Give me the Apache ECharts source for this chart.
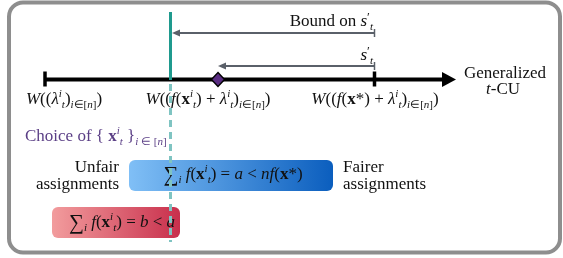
<!DOCTYPE html>
<html>
<head>
<meta charset="UTF-8">
<title>Generalized t-CU</title>
<script src="https://cdn.jsdelivr.net/npm/echarts@6/dist/echarts.min.js"></script>
<style>
    html, body { margin: 0; padding: 0; background: #fff; }
    #chart { width: 563px; height: 258px; }
</style>
</head>
<body>
<div id="chart"></div>
<script>
// values along the generalized t-CU axis (hidden value axis 0..563)
var axisRange = [45, 456];
var boundTicks = [45, 374.5];              // W((λ)) and W((f(x*)+λ))
var chosenValue = [170.5];                 // W((f(x_t)+λ)), teal marker
var currentValue = [218];                  // diamond
var gapArrows = [[374.5, 172], [374.5, 218]];   // "Bound on s't", "s't"
var assignmentBoxes = [[129, 333], [52, 180]];  // fairer (blue), unfair (red)

// rows of the drawing (y on the hidden axis, top = 0)
var AXIS_Y = 79.5;
var ARROW_Y = [33, 66];
var BOX_Y = [[160, 191], [207, 238]];
var TEAL_Y = [12, 80, 242];

var SERIF = '"Liberation Serif", "Times New Roman", serif';
var INK = '#111';
var PURPLE = '#5b3f86';
var TEAL = '#1f9a8e';
var TEAL_LIGHT = '#7fc4c2';
var ARROW = '#5a6069';
var BOX_COLORS = [['#80bff6', '#0b5ebe'], ['#f29c9d', '#c82f4c']];

function styles(color) {
    return {
        n:    { fontFamily: SERIF, fontSize: 17, lineHeight: 22, fill: color },
        it:   { fontFamily: SERIF, fontSize: 17, lineHeight: 22, fill: color, fontStyle: 'italic' },
        bf:   { fontFamily: SERIF, fontSize: 17, lineHeight: 22, fill: color, fontWeight: 'bold' },
        sup:  { fontFamily: SERIF, fontSize: 11, lineHeight: 16, fill: color, fontStyle: 'italic', verticalAlign: 'top' },
        pr:   { fontFamily: SERIF, fontSize: 13, lineHeight: 17, fill: color, verticalAlign: 'top' },
        sub:  { fontFamily: SERIF, fontSize: 11, lineHeight: 12, fill: color, fontStyle: 'italic', verticalAlign: 'bottom' },
        subr: { fontFamily: SERIF, fontSize: 11, lineHeight: 12, fill: color, verticalAlign: 'bottom' },
        sum:  { fontFamily: SERIF, fontSize: 21, lineHeight: 22, fill: color }
    };
}
var richInk = styles(INK);
var richPurple = styles(PURPLE);

var idx = '{sub|i}{subr|∈[}{sub|n}{subr|]}';
var labels = [
    { t: '{it|W}{n|((}{it|λ}{sup|i}{sub|t}{n|)}' + idx + '{n|)}', x: 64, y: 100, align: 'center' },
    { t: '{it|W}{n|((}{it|f}{n|(}{bf|x}{sup|i}{sub|t}{n|) + }{it|λ}{sup|i}{sub|t}{n|)}' + idx + '{n|)}', x: 208, y: 100, align: 'center' },
    { t: '{it|W}{n|((}{it|f}{n|(}{bf|x}{n|*) + }{it|λ}{sup|i}{sub|t}{n|)}' + idx + '{n|)}', x: 375, y: 100, align: 'center' },
    { t: '{n|Generalized}', x: 505, y: 74, align: 'center' },
    { t: '{it|t}{n|-CU}', x: 503, y: 90, align: 'center' },
    { t: '{n|Bound on }{it|s}{pr|′}{sub|t}', x: 373, y: 22, align: 'right' },
    { t: '{it|s}{pr|′}{sub|t}', x: 373, y: 56, align: 'right' },
    { t: '{n|Choice of { }{bf|x}{sup|i}{sub|t}{n| }}{sub|i }{subr|∈ [}{sub|n}{subr|]}', x: 25, y: 137, align: 'left', purple: true },
    { t: '{n|Unfair}', x: 119, y: 168, align: 'right' },
    { t: '{n|assignments}', x: 119, y: 185, align: 'right' },
    { t: '{n|Fairer}', x: 343, y: 168, align: 'left' },
    { t: '{n|assignments}', x: 343, y: 185, align: 'left' },
    { t: '{sum|∑}{sub|i}{it| f}{n|(}{bf|x}{sup|i}{sub|t}{n|) = }{it|a}{n| < }{it|nf}{n|(}{bf|x}{n|*)}', x: 233, y: 175, align: 'center' },
    { t: '{sum|∑}{sub|i}{it| f}{n|(}{bf|x}{sup|i}{sub|t}{n|) = }{it|b}{n| < }{it|a}', x: 122, y: 223, align: 'center' }
];

var chart = echarts.init(document.getElementById('chart'), null, { renderer: 'canvas' });

var option = {
    animation: false,
    backgroundColor: '#fff',
    grid: { left: 0, right: 0, top: 0, bottom: 0 },
    xAxis: { type: 'value', min: 0, max: 563, show: false },
    yAxis: { type: 'value', min: 0, max: 258, inverse: true, show: false },
    graphic: [{
        type: 'rect', z: -10,
        shape: { x: 9, y: 2.5, width: 551, height: 250, r: 14 },
        style: { fill: '#fff', stroke: '#8e8e8e', lineWidth: 4 }
    }],
    series: [
        {   // assignment boxes
            type: 'custom', z: 1,
            data: assignmentBoxes,
            renderItem: function (params, api) {
                var i = params.dataIndex;
                var a = api.coord([api.value(0), BOX_Y[i][0]]);
                var b = api.coord([api.value(1), BOX_Y[i][1]]);
                return {
                    type: 'rect',
                    shape: { x: a[0], y: a[1], width: b[0] - a[0], height: b[1] - a[1], r: 6 },
                    style: {
                        fill: new echarts.graphic.LinearGradient(0, 0, 1, 0, [
                            { offset: 0, color: BOX_COLORS[i][0] },
                            { offset: 1, color: BOX_COLORS[i][1] }
                        ])
                    }
                };
            }
        },
        {   // text labels
            type: 'custom', z: 2,
            data: labels.map(function (l) { return [l.x, l.y]; }),
            renderItem: function (params, api) {
                var l = labels[params.dataIndex];
                var p = api.coord([api.value(0), api.value(1)]);
                return {
                    type: 'text', x: p[0], y: p[1],
                    style: {
                        text: l.t, rich: l.purple ? richPurple : richInk,
                        align: l.align, verticalAlign: 'middle',
                        fontFamily: SERIF, fontSize: 17, lineHeight: 22,
                        fill: l.purple ? PURPLE : INK
                    }
                };
            }
        },
        {   // main axis with arrow head
            type: 'custom', z: 3,
            data: [axisRange],
            renderItem: function (params, api) {
                var a = api.coord([api.value(0), AXIS_Y]);
                var b = api.coord([api.value(1), AXIS_Y]);
                return {
                    type: 'group', children: [
                        { type: 'line', shape: { x1: a[0], y1: a[1], x2: b[0] - 12, y2: b[1] }, style: { stroke: '#000', lineWidth: 4 } },
                        { type: 'polygon', shape: { points: [[b[0] - 14, b[1] - 7.5], [b[0], b[1]], [b[0] - 14, b[1] + 7.5]] }, style: { fill: '#000' } }
                    ]
                };
            }
        },
        {   // bound ticks
            type: 'custom', z: 4,
            data: boundTicks.map(function (v) { return [v]; }),
            renderItem: function (params, api) {
                var a = api.coord([api.value(0), AXIS_Y - 8]);
                var b = api.coord([api.value(0), AXIS_Y + 7]);
                return { type: 'line', shape: { x1: a[0], y1: a[1], x2: b[0], y2: b[1] }, style: { stroke: '#000', lineWidth: 3.5 } };
            }
        },
        {   // gap arrows
            type: 'custom', z: 4,
            data: gapArrows,
            renderItem: function (params, api) {
                var y = ARROW_Y[params.dataIndex];
                var a = api.coord([api.value(0), y]);
                var b = api.coord([api.value(1), y]);
                return {
                    type: 'group', children: [
                        { type: 'line', shape: { x1: a[0], y1: a[1], x2: b[0] + 6, y2: b[1] }, style: { stroke: ARROW, lineWidth: 2 } },
                        { type: 'line', shape: { x1: a[0], y1: a[1] - 4, x2: a[0], y2: a[1] + 4 }, style: { stroke: ARROW, lineWidth: 1.5 } },
                        { type: 'polygon', shape: { points: [[b[0] + 8, b[1] - 3.5], [b[0], b[1]], [b[0] + 8, b[1] + 3.5]] }, style: { fill: ARROW } }
                    ]
                };
            }
        },
        {   // chosen value: teal line, solid above the axis, dashed below
            type: 'custom', z: 5,
            data: chosenValue.map(function (v) { return [v]; }),
            renderItem: function (params, api) {
                var a = api.coord([api.value(0), TEAL_Y[0]]);
                var m = api.coord([api.value(0), TEAL_Y[1]]);
                var b = api.coord([api.value(0), TEAL_Y[2]]);
                return {
                    type: 'group', children: [
                        { type: 'line', shape: { x1: a[0], y1: a[1], x2: m[0], y2: m[1] }, style: { stroke: TEAL, lineWidth: 3 } },
                        { type: 'line', shape: { x1: m[0], y1: m[1] + 4, x2: b[0], y2: b[1] }, style: { stroke: TEAL_LIGHT, lineWidth: 3, lineDash: [7, 5] } }
                    ]
                };
            }
        },
        {   // current value
            type: 'scatter', z: 6,
            data: currentValue.map(function (v) { return [v, AXIS_Y]; }),
            symbol: 'diamond', symbolSize: [13, 14],
            itemStyle: { color: '#5a2d82', borderColor: '#000', borderWidth: 1.5, opacity: 1 }
        }
    ]
};
chart.setOption(option);
</script>
</body>
</html>
